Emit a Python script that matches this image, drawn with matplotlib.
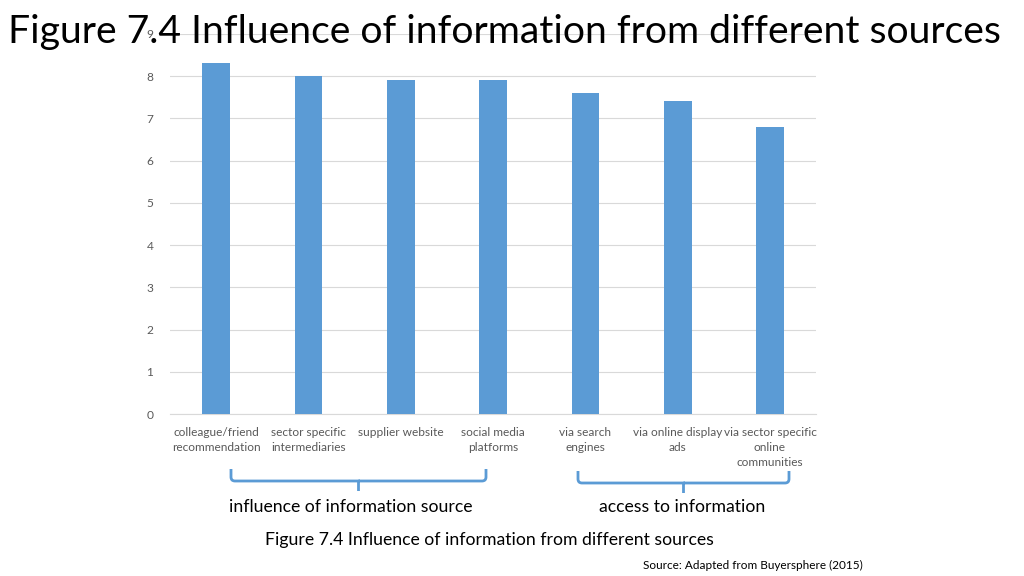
import matplotlib.pyplot as plt
from matplotlib.path import Path
from matplotlib.patches import PathPatch

plt.rcParams['font.family'] = ['Lato', 'DejaVu Sans']

categories = ['colleague/friend\nrecommendation', 'sector specific\nintermediaries',
              'supplier website', 'social media\nplatforms', 'via search\nengines',
              'via online display\nads', 'via sector specific\nonline\ncommunities']
values = [8.3, 8.0, 7.9, 7.9, 7.6, 7.4, 6.8]
yticks = list(range(0, 10))

blue = '#5B9BD5'
fig = plt.figure(figsize=(10.24, 5.76), dpi=100)
ax = fig.add_axes([0.166, 0.2812, 0.631, 0.6602])

x = range(len(categories))
ax.bar(x, values, width=0.3, color=blue, zorder=3)
ax.set_xlim(-0.5, len(categories) - 0.5)
ax.set_ylim(0, 9)
ax.set_yticks(yticks)
ax.set_xticks(list(x))
ax.set_xticklabels(categories, fontsize=8.6, color='#595959', linespacing=1.45)
ax.tick_params(axis='both', length=0, colors='#595959', labelsize=8.6)
ax.tick_params(axis='x', pad=9)
ax.tick_params(axis='y', pad=12)
ax.grid(axis='y', color='#D9D9D9', linewidth=0.8, zorder=0)
for s in ['top', 'right', 'left']:
    ax.spines[s].set_visible(False)
ax.spines['bottom'].set_color('#D9D9D9')

fig.text(0.008, 0.945, 'Figure 7.4 Influence of information from different sources',
         fontsize=28.2, color='black', ha='left', va='center')


def brace(x0, x1, ytop, ymid, ybot):
    W, H = 1024, 576
    r = 4
    xm = (x0 + x1) / 2
    pts = [(x0, ytop), (x0, ymid - r), (x0, ymid), (x0 + r, ymid),
           (xm, ymid), (xm, ybot), (xm, ymid), (x1 - r, ymid),
           (x1, ymid), (x1, ymid - r), (x1, ytop)]
    codes = [Path.MOVETO, Path.LINETO, Path.CURVE3, Path.CURVE3,
             Path.LINETO, Path.LINETO, Path.MOVETO, Path.LINETO,
             Path.CURVE3, Path.CURVE3, Path.LINETO]
    pts = [(px / W, 1 - py / H) for px, py in pts]
    fig.add_artist(PathPatch(Path(pts, codes), transform=fig.transFigure,
                             fill=False, edgecolor=blue, linewidth=2))


brace(231, 486, 469, 481, 491)
brace(578, 789, 471, 483, 493)

fig.text(351 / 1024, 1 - 507 / 576, 'influence of information source', fontsize=12.7,
         ha='center', va='center')
fig.text(682 / 1024, 1 - 507 / 576, 'access to information', fontsize=12.7,
         ha='center', va='center')
fig.text(489 / 1024, 1 - 540 / 576, 'Figure 7.4 Influence of information from different sources',
         fontsize=12.7, ha='center', va='center')
fig.text(863 / 1024, 1 - 565 / 576, 'Source: Adapted from Buyersphere (2015)',
         fontsize=8.5, ha='right', va='center')

fig.savefig('out.png', dpi=100)
